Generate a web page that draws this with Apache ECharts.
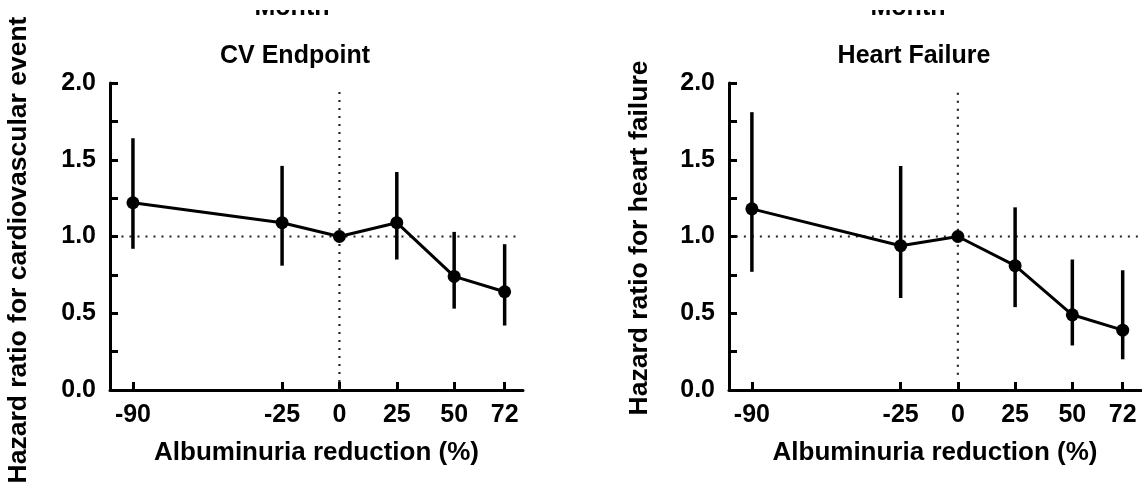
<!DOCTYPE html>
<html>
<head>
<meta charset="utf-8">
<script src="https://cdn.jsdelivr.net/npm/echarts@6/dist/echarts.min.js"></script>
<style>
html,body{margin:0;padding:0;background:#fff;}
#chart{width:1142px;height:484px;}
</style>
</head>
<body>
<div id="chart"></div>
<script>
// ---- Data ----
const xTicks = [-90, -25, 0, 25, 50, 72];
const cvHR   = [1.22, 1.09, 1.00, 1.09, 0.74, 0.64];
const cvLow  = [0.92, 0.81, 1.00, 0.85, 0.53, 0.42];
const cvHigh = [1.64, 1.46, 1.00, 1.42, 1.03, 0.95];
const hfHR   = [1.18, 0.94, 1.00, 0.81, 0.49, 0.39];
const hfLow  = [0.77, 0.60, 1.00, 0.54, 0.29, 0.20];
const hfHigh = [1.81, 1.46, 1.00, 1.19, 0.85, 0.78];
const yTickLabels = ['0.0', '0.5', '1.0', '1.5', '2.0'];
const refLineY = 1.0;
const refLineX = 0;
const cvRefH = [[-95, refLineY], [78, refLineY]];
const cvRefV = [[refLineX, 0], [refLineX, 1.97]];
const hfRefH = [[-97, refLineY], [80, refLineY]];
const hfRefV = [[refLineX, 0.1], [refLineX, 1.97]];

const FONT = '"Liberation Sans", Arial, Helvetica, sans-serif';
const chart = echarts.init(document.getElementById('chart'), null, {renderer: 'canvas'});

function pairs(xs, ys) { return xs.map((x, i) => [x, ys[i]]); }
function errData(xs, lo, hi) { return xs.map((x, i) => [x, lo[i], hi[i]]); }

function xAxisCfg(gi) {
  return {
    type: 'value', gridIndex: gi, min: -100, max: 80,
    axisLine: {show: true, onZero: false, lineStyle: {color: '#000', width: 3}},
    axisTick: {show: true, inside: true, length: 8, customValues: xTicks, lineStyle: {color: '#000', width: 3}},
    axisLabel: {show: true, customValues: xTicks, margin: 13, color: '#000', fontSize: 25, fontWeight: 'bold', fontFamily: FONT},
    splitLine: {show: false},
    name: 'Albuminuria reduction (%)', nameLocation: 'middle', nameGap: 50,
    nameTextStyle: {color: '#000', fontSize: 26, fontWeight: 'bold', fontFamily: FONT}
  };
}
function yAxisCfg(gi) {
  return {
    type: 'value', gridIndex: gi, min: 0, max: 2, interval: 0.25,
    axisLine: {show: true, onZero: false, lineStyle: {color: '#000', width: 3}},
    axisTick: {show: true, inside: true, length: 8, lineStyle: {color: '#000', width: 3}},
    axisLabel: {
      show: true, margin: 14, color: '#000', fontSize: 25, fontWeight: 'bold', fontFamily: FONT,
      formatter: function (v) {
        const idx = Math.round(v / 0.5);
        return Math.abs(v - idx * 0.5) < 1e-6 ? yTickLabels[idx] : '';
      }
    },
    splitLine: {show: false}
  };
}

function errSeries(gi, data) {
  return {
    type: 'custom', xAxisIndex: gi, yAxisIndex: gi, z: 3,
    data: data,
    renderItem: function (params, api) {
      const x = api.value(0), lo = api.value(1), hi = api.value(2);
      if (lo === hi) return null;
      const p1 = api.coord([x, lo]);
      const p2 = api.coord([x, hi]);
      return {type: 'line', shape: {x1: p1[0], y1: p1[1], x2: p2[0], y2: p2[1]},
              style: {stroke: '#000', lineWidth: 3.5}};
    }
  };
}
function refSeries(gi, data) {
  return {
    type: 'line', xAxisIndex: gi, yAxisIndex: gi, data: data, symbol: 'none', z: 1,
    silent: true, lineStyle: {color: '#222', width: 2.2, type: [2, 6]}
  };
}
function mainSeries(gi, data, sym) {
  return {
    type: 'line', xAxisIndex: gi, yAxisIndex: gi, data: data, z: 5,
    symbol: sym, symbolSize: 13, showSymbol: true,
    lineStyle: {color: '#000', width: 3}, itemStyle: {color: '#000'}
  };
}

const option = {
  backgroundColor: '#fff',
  animation: false,
  grid: [
    {left: 110, top: 83, width: 413, height: 307},
    {left: 729, top: 83, width: 412, height: 307}
  ],
  xAxis: [xAxisCfg(0), xAxisCfg(1)],
  yAxis: [yAxisCfg(0), yAxisCfg(1)],
  graphic: [
    {type: 'text', x: 292, y: 21, z: 10, style: {text: 'Month', fill: '#000', font: 'bold 25px ' + FONT, textAlign: 'center', textVerticalAlign: 'bottom'}},
    {type: 'text', x: 908, y: 21, z: 10, style: {text: 'Month', fill: '#000', font: 'bold 25px ' + FONT, textAlign: 'center', textVerticalAlign: 'bottom'}},
    {type: 'rect', z: 11, shape: {x: 0, y: 0, width: 1142, height: 10}, style: {fill: '#fff'}},
    {type: 'text', x: 295, y: 56, style: {text: 'CV Endpoint', fill: '#000', font: 'bold 25px ' + FONT, textAlign: 'center', textVerticalAlign: 'middle'}},
    {type: 'text', x: 914, y: 56, style: {text: 'Heart Failure', fill: '#000', font: 'bold 25px ' + FONT, textAlign: 'center', textVerticalAlign: 'middle'}},
    {type: 'text', x: 19, y: 250, rotation: Math.PI / 2, style: {text: 'Hazard ratio for cardiovascular event', fill: '#000', font: 'bold 26.5px ' + FONT, textAlign: 'center', textVerticalAlign: 'middle'}},
    {type: 'text', x: 640, y: 238, rotation: Math.PI / 2, style: {text: 'Hazard ratio for heart failure', fill: '#000', font: 'bold 26.5px ' + FONT, textAlign: 'center', textVerticalAlign: 'middle'}}
  ],
  series: [
    refSeries(0, cvRefH), refSeries(0, cvRefV),
    refSeries(1, hfRefH), refSeries(1, hfRefV),
    errSeries(0, errData(xTicks, cvLow, cvHigh)),
    errSeries(1, errData(xTicks, hfLow, hfHigh)),
    mainSeries(0, pairs(xTicks, cvHR), 'circle'),
    mainSeries(1, pairs(xTicks, hfHR), 'circle')
  ]
};
chart.setOption(option);
</script>
</body>
</html>
